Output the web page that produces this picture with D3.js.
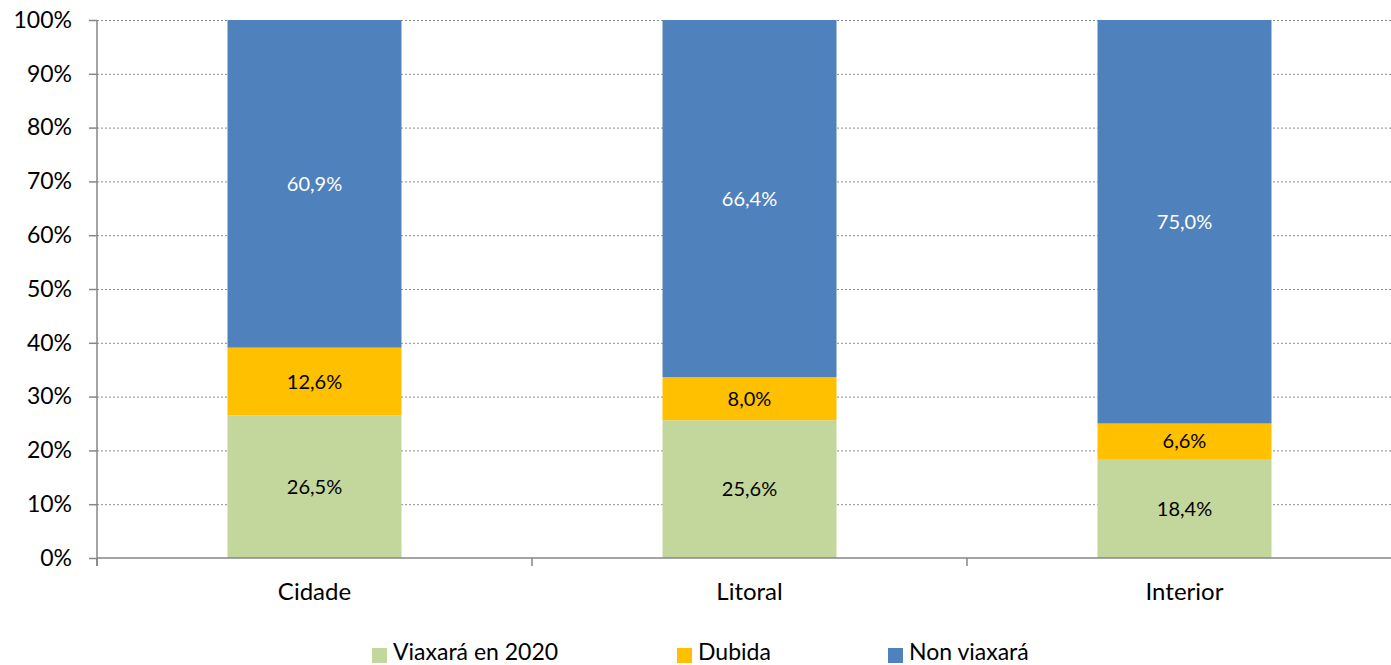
<!DOCTYPE html>
<html>
<head>
<meta charset="utf-8">
<script src="https://cdn.jsdelivr.net/npm/d3@7"></script>
<style>
	body { margin: 0; background: #fff; }
	text { font-family: Lato, "Open Sans", sans-serif; }
</style>
</head>
<body>
<div id="chart"></div>
<script>
const categories = ["Cidade", "Litoral", "Interior"];
const seriesNames = ["Viaxará en 2020", "Dubida", "Non viaxará"];
const viaxara = [26.5, 25.6, 18.4];
const dubida = [12.6, 8.0, 6.6];
const nonViaxara = [60.9, 66.4, 75.0];
const yTicks = [0, 10, 20, 30, 40, 50, 60, 70, 80, 90, 100];

const colors = ["#C3D69B", "#FFC000", "#4F81BD"];
const labelColors = ["#000", "#000", "#fff"];

const W = 1391, H = 665;
const margin = {top: 20, left: 97, bottom: 107};
const plotH = H - margin.top - margin.bottom;

const svg = d3.select("#chart").append("svg")
	.attr("width", W)
	.attr("height", H);

// rows for the stack
const rows = categories.map((c, i) => ({
	cat: c, s0: viaxara[i], s1: dubida[i], s2: nonViaxara[i]
}));
const stack = d3.stack().keys(["s0", "s1", "s2"])(rows);

const x = d3.scaleBand()
	.domain(categories)
	.range([margin.left, margin.left + 435 * 3])
	.paddingInner(0.6)
	.paddingOuter(0.3);

const y = d3.scaleLinear()
	.domain([0, 100])
	.range([margin.top + plotH, margin.top]);

// gridlines
svg.append("g")
	.selectAll("line")
	.data(yTicks.filter(d => d > 0))
	.join("line")
		.attr("x1", margin.left)
		.attr("x2", W)
		.attr("y1", d => y(d) + 0.5)
		.attr("y2", d => y(d) + 0.5)
		.attr("stroke", "#8c8c8c")
		.attr("stroke-width", 1)
		.attr("stroke-dasharray", "2,2");

// bars
svg.append("g")
	.selectAll("g")
	.data(stack)
	.join("g")
		.attr("fill", (d, i) => colors[i])
	.selectAll("rect")
	.data(d => d)
	.join("rect")
		.attr("x", d => x(d.data.cat))
		.attr("width", x.bandwidth())
		.attr("y", d => y(d[1]))
		.attr("height", d => y(d[0]) - y(d[1]));

// data labels
stack.forEach((layer, i) => {
	svg.append("g")
		.selectAll("text")
		.data(layer)
		.join("text")
			.attr("x", d => x(d.data.cat) + x.bandwidth() / 2)
			.attr("y", d => y((d[0] + d[1]) / 2))
			.attr("dy", "0.35em")
			.attr("text-anchor", "middle")
			.attr("font-size", 20)
			.attr("fill", labelColors[i])
			.text(d => (d[1] - d[0]).toFixed(1).replace(".", ",") + "%");
});

// y axis
const yAxis = svg.append("g")
	.attr("transform", `translate(${margin.left},0)`)
	.call(d3.axisLeft(y).tickValues(yTicks).tickFormat(d => d + "%").tickSize(8).tickPadding(17));
yAxis.select(".domain").remove();
yAxis.selectAll("line").attr("stroke", "#868686").attr("stroke-width", 1.5);
yAxis.selectAll("text").attr("font-size", 23).attr("fill", "#000");
svg.append("line")
	.attr("x1", margin.left).attr("x2", margin.left)
	.attr("y1", margin.top).attr("y2", y(0) + 8)
	.attr("stroke", "#868686").attr("stroke-width", 1.5);

// x axis
const xAxis = svg.append("g")
	.attr("transform", `translate(0,${y(0)})`);
xAxis.append("line")
	.attr("x1", margin.left).attr("x2", W)
	.attr("stroke", "#868686").attr("stroke-width", 1.5);
xAxis.selectAll(".sep")
	.data(d3.range(categories.length + 1))
	.join("line")
		.attr("class", "sep")
		.attr("x1", d => margin.left + 435 * d)
		.attr("x2", d => margin.left + 435 * d)
		.attr("y1", 0).attr("y2", 8)
		.attr("stroke", "#868686").attr("stroke-width", 1.5);
xAxis.selectAll(".cat")
	.data(categories)
	.join("text")
		.attr("class", "cat")
		.attr("x", d => x(d) + x.bandwidth() / 2)
		.attr("y", 42)
		.attr("text-anchor", "middle")
		.attr("font-size", 24)
		.attr("fill", "#000")
		.text(d => d);

// legend
const legendX = [372, 677, 888];
const legend = svg.append("g")
	.selectAll("g")
	.data(seriesNames)
	.join("g")
		.attr("transform", (d, i) => `translate(${legendX[i]},645)`);
legend.append("rect")
	.attr("y", 3)
	.attr("width", 15).attr("height", 15)
	.attr("fill", (d, i) => colors[i]);
legend.append("text")
	.attr("x", 21)
	.attr("y", 15)
	.attr("font-size", 23)
	.attr("fill", "#000")
	.text(d => d);
</script>
</body>
</html>
